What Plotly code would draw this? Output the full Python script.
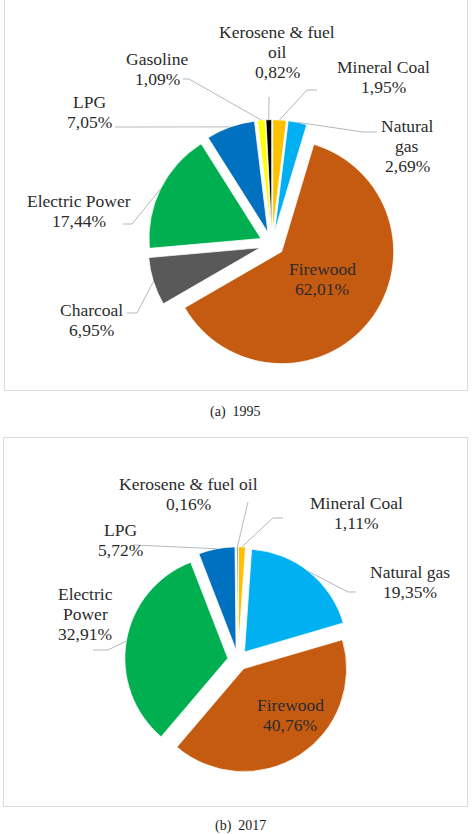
import math
import plotly.graph_objects as go

W, H = 473, 834

# ---------------- data ----------------
categories_1995 = ["Mineral Coal", "Natural gas", "Firewood", "Charcoal",
                   "Electric Power", "LPG", "Gasoline", "Kerosene & fuel oil"]
values_1995 = [1.95, 2.69, 62.01, 6.95, 17.44, 7.05, 1.09, 0.82]

categories_2017 = ["Mineral Coal", "Natural gas", "Firewood",
                   "Electric Power", "LPG", "Kerosene & fuel oil"]
values_2017 = [1.11, 19.35, 40.76, 32.91, 5.72, 0.16]

captions = ["(a)\u00a0 1995", "(b)\u00a0 2017"]

# ---------------- styles ----------------
COLORS = {
    "Mineral Coal": "#FFC000",
    "Natural gas": "#00B0F0",
    "Firewood": "#C55A11",
    "Charcoal": "#595959",
    "Electric Power": "#00B050",
    "LPG": "#0070C0",
    "Gasoline": "#FFFF00",
    "Kerosene & fuel oil": "#000000",
}
FONT = "Liberation Serif"
TXT = "#2b2b2b"
LEADER = "#B4B8BF"
FS = 17.5
LINE_H = 20

# pie geometry (pixels): centre, radius, uniform explosion
pies = [
    dict(cats=categories_1995, vals=values_1995, cx=272, cy=244, r=112, pull=0.11,
         split={"Kerosene & fuel oil": ["Kerosene & fuel", "oil"],
                "Natural gas": ["Natural", "gas"]},
         labels={  # category: (label centre x, centre y)
             "Kerosene & fuel oil": (277, 52),
             "Gasoline": (157, 69),
             "Mineral Coal": (383, 77),
             "Natural gas": (407, 146),
             "LPG": (89, 112),
             "Electric Power": (79, 211),
             "Charcoal": (91, 319.5),
             "Firewood": (322, 278.7),
         },
         leaders={  # category: list of points from elbow to end
             "Gasoline": [(189, 79), (183, 79)],
             "Kerosene & fuel oil": [(269, 97)],
             "Mineral Coal": [(307, 90), (317, 90)],
             "Natural gas": [(363, 132), (377, 132)],
             "LPG": [(115, 127)],
             "Electric Power": [(132, 224), (123, 224)],
             "Charcoal": [(137, 313), (127, 313)],
         }),
    dict(cats=categories_2017, vals=values_2017, cx=238, cy=660, r=103, pull=0.10,
         split={"Electric Power": ["Electric", "Power"]},
         labels={
             "Kerosene & fuel oil": (188, 494),
             "Mineral Coal": (356, 512.5),
             "LPG": (120, 540),
             "Natural gas": (410, 582),
             "Electric Power": (85, 614),
             "Firewood": (290, 714.5),
         },
         leaders={
             "Kerosene & fuel oil": [(248, 502)],
             "Mineral Coal": [(273, 518), (283, 518)],
             "LPG": [(133, 545)],
             "Natural gas": [(348, 592), (356, 592)],
             "Electric Power": [(108, 650), (93, 650)],
         }),
]

boxes = [(4.5, -2, 467.5, 390.5), (3.5, 437.5, 467.5, 806.5)]
caption_pos = [(235, 412), (240, 826)]


def px(x):
    return x / W


def py(y):
    return 1 - y / H


fig = go.Figure()
annotations = []
shapes = []

for p in pies:
    cx, cy, r, pull = p["cx"], p["cy"], p["r"], p["pull"]
    half = r * (1 + pull)
    fig.add_trace(go.Pie(
        labels=p["cats"], values=p["vals"], sort=False, direction="clockwise",
        rotation=0, pull=[pull] * len(p["vals"]),
        marker=dict(colors=[COLORS[c] for c in p["cats"]],
                    line=dict(color="white", width=0.75)),
        textinfo="none", hoverinfo="label+value", showlegend=False,
        domain=dict(x=[px(cx - half), px(cx + half)],
                    y=[py(cy + half), py(cy - half)]),
    ))

    total = sum(p["vals"])
    cum = 0.0
    for cat, v in zip(p["cats"], p["vals"]):
        mid = (cum + v / 2) / total * 2 * math.pi
        cum += v
        # label text
        name_lines = p["split"].get(cat, [cat])
        lines = name_lines + [f"{v:.2f}".replace(".", ",") + "%"]
        lx, ly = p["labels"][cat]
        n = len(lines)
        for i, t in enumerate(lines):
            annotations.append(dict(
                x=px(lx), y=py(ly + (i - (n - 1) / 2) * LINE_H),
                xref="paper", yref="paper", text=t, showarrow=False,
                xanchor="center", yanchor="middle",
                font=dict(family=FONT, size=FS, color=TXT)))
        # leader line from slice edge at mid angle
        if cat in p["leaders"]:
            R = r * (1 + pull)
            sx, sy = cx + R * math.sin(mid), cy - R * math.cos(mid)
            pts = [(sx, sy)] + p["leaders"][cat]
            path = "M " + " L ".join(f"{px(a):.5f},{py(b):.5f}" for a, b in pts)
            shapes.append(dict(type="path", xref="paper", yref="paper", path=path,
                               line=dict(color=LEADER, width=1)))

for (x0, y0, x1, y1) in boxes:
    shapes.append(dict(type="rect", xref="paper", yref="paper",
                       x0=px(x0), x1=px(x1), y0=py(y1), y1=py(y0),
                       line=dict(color="#D9D9D9", width=1), layer="below"))

for t, (x, y) in zip(captions, caption_pos):
    annotations.append(dict(x=px(x), y=py(y), xref="paper", yref="paper", text=t,
                            showarrow=False, xanchor="center", yanchor="middle",
                            font=dict(family=FONT, size=14, color="#1a1a1a")))

fig.update_layout(
    width=W, height=H, margin=dict(l=0, r=0, t=0, b=0),
    paper_bgcolor="white", plot_bgcolor="white",
    font=dict(family=FONT),
    annotations=annotations, shapes=shapes, showlegend=False,
)

fig.write_html("out.html")
